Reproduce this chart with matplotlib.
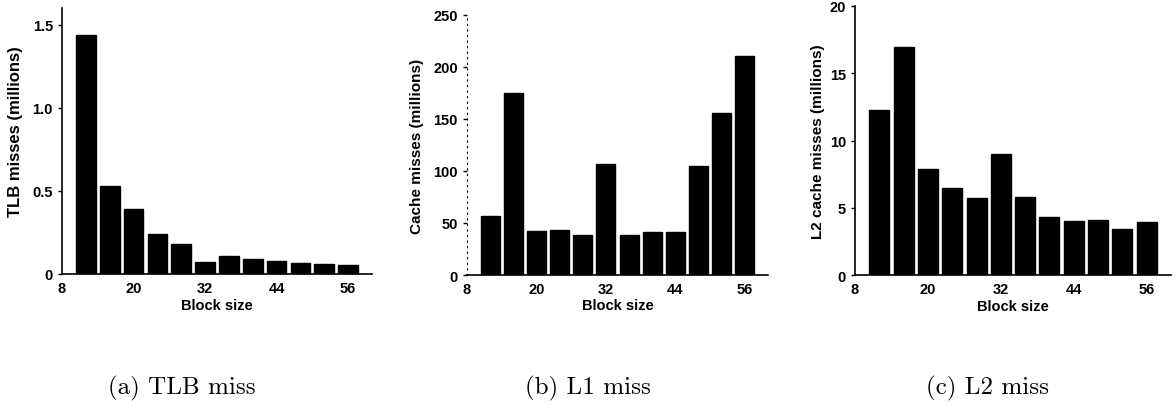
import matplotlib
matplotlib.use("Agg")
import matplotlib.pyplot as plt
import numpy as np

block_sizes = [12, 16, 20, 24, 28, 32, 36, 40, 44, 48, 52, 56]
tlb_misses = [1.44, 0.53, 0.39, 0.24, 0.18, 0.07, 0.11, 0.09, 0.08, 0.066, 0.06, 0.054]
l1_misses = [57, 175, 42, 43, 38, 107, 38, 41, 41, 105, 156, 211]
l2_misses = [12.3, 16.95, 7.9, 6.45, 5.7, 9.0, 5.8, 4.3, 4.05, 4.1, 3.45, 3.95]
x_ticks = [8, 20, 32, 44, 56]

ylabels = ['TLB misses (millions)', 'Cache misses (millions)', 'L2 cache misses (millions)']
captions = ['(a) TLB miss', '(b) L1 miss', '(c) L2 miss']

plt.rcParams['font.family'] = ['Liberation Sans', 'DejaVu Sans']

fig = plt.figure(figsize=(11.76, 4.06), dpi=100)

# axes rectangles, pixel -> fraction
rects = [
    [62/1176, 131/406, 310/1176, 265.6/406],
    [467/1176, 130/406, 301/1176, 260/406],
    [855/1176, 130/406, 316/1176, 269/406],
]
ylims = [(0, 1.6), (0, 250), (0, 20)]
yticks = [[0, 0.5, 1.0, 1.5], [0, 50, 100, 150, 200, 250], [0, 5, 10, 15, 20]]
yticklabels = [['0', '0.5', '1.0', '1.5'],
               ['0', '50', '100', '150', '200', '250'],
               ['0', '5', '10', '15', '20']]
ylabel_x = [-0.126, -0.143, -0.095]
ylabel_y = [0.54, 0.5, 0.5]
ylabel_size = [12, 11, 11]
caption_x = [182, 588, 988]
data = [tlb_misses, l1_misses, l2_misses]

for i in range(3):
    ax = fig.add_axes(rects[i])
    ax.bar(block_sizes, data[i], width=3.3, color='black', edgecolor='black')
    ax.set_xlim(8, 60)
    ax.set_ylim(*ylims[i])
    ax.set_xticks(x_ticks)
    ax.set_yticks(yticks[i])
    ax.set_yticklabels(yticklabels[i])
    for s in ['top', 'right']:
        ax.spines[s].set_visible(False)
    ax.spines['left'].set_linewidth(1.2)
    ax.spines['bottom'].set_linewidth(1.2)
    if i == 1:
        ax.spines['left'].set_linestyle((0, (1, 4)))
        ax.spines['left'].set_linewidth(0.8)
    ax.tick_params(axis='y', direction='out', length=3, width=1, labelsize=10.5)
    ax.tick_params(axis='x', length=0, pad=5, labelsize=10.5)
    for lab in ax.get_xticklabels() + ax.get_yticklabels():
        lab.set_fontweight('bold')
    ax.set_ylabel(ylabels[i], fontsize=ylabel_size[i], fontweight='bold')
    ax.yaxis.set_label_coords(ylabel_x[i], ylabel_y[i])
    ax.set_xlabel('Block size', fontsize=10.5, fontweight='bold')
    ax.xaxis.set_label_coords(0.5, -0.09)
    fig.text(caption_x[i]/1176, 1 - 388/406, captions[i], family='cmr10',
             fontsize=18, ha='center', va='center')

fig.savefig('out.png', dpi=100)
